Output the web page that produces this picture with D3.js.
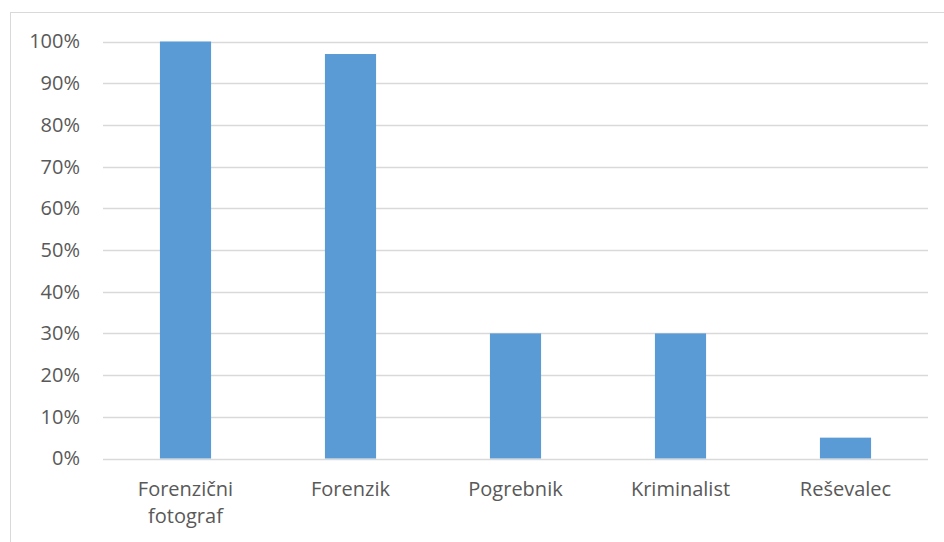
<!DOCTYPE html>
<html>
<head>
<meta charset="utf-8">
<script src="https://cdn.jsdelivr.net/npm/d3@7"></script>
<style>
  html, body { margin: 0; padding: 0; background: #fff; }
  svg { display: block; }
</style>
</head>
<body>
<svg id="chart" width="944" height="542"></svg>
<script>
// Occupations and share of respondents (%)
const categories = [["Forenzični", "fotograf"], ["Forenzik"], ["Pogrebnik"], ["Kriminalist"], ["Reševalec"]];
const values = [100, 97, 30, 30, 5];
const yTicks = [0, 10, 20, 30, 40, 50, 60, 70, 80, 90, 100];

const svg = d3.select("#chart");
const font = "'Open Sans', sans-serif";
const textColor = "#595959";

// chart frame
svg.append("rect")
  .attr("x", 10.5).attr("y", 12.5)
  .attr("width", 944).attr("height", 542)
  .attr("fill", "#fff").attr("stroke", "#d9d9d9").attr("stroke-width", 1);

const plotLeft = 103, plotRight = 928, plotTop = 41.5, plotBottom = 458.5;

const x = d3.scaleBand()
  .domain(categories.map((d, i) => i))
  .range([plotLeft, plotRight])
  .paddingInner(0.69).paddingOuter(0.345);

const y = d3.scaleLinear().domain([0, 100]).range([plotBottom, plotTop]);

// gridlines
svg.append("g")
  .selectAll("line")
  .data(yTicks)
  .join("line")
  .attr("x1", plotLeft).attr("x2", plotRight)
  .attr("y1", d => Math.round(y(d)) + 0.5).attr("y2", d => Math.round(y(d)) + 0.5)
  .attr("stroke", "#d9d9d9").attr("stroke-width", 1.3);

// y axis labels
const yAxis = d3.axisLeft(y).tickValues(yTicks).tickFormat(d => d + "%").tickSize(0).tickPadding(0);
const gy = svg.append("g").attr("transform", "translate(80,0)").call(yAxis);
gy.select(".domain").remove();
gy.selectAll("text")
  .attr("font-family", font).attr("font-size", 20).attr("fill", textColor);

// bars
svg.append("g")
  .selectAll("rect")
  .data(values)
  .join("rect")
  .attr("x", (d, i) => x(i))
  .attr("width", x.bandwidth())
  .attr("y", d => y(d))
  .attr("height", d => y(0) - y(d))
  .attr("fill", "#5b9bd5");

// category labels
const lab = svg.append("g")
  .selectAll("text")
  .data(categories)
  .join("text")
  .attr("x", (d, i) => x(i) + x.bandwidth() / 2)
  .attr("y", 496)
  .attr("text-anchor", "middle")
  .attr("font-family", font).attr("font-size", 20).attr("fill", textColor);
lab.selectAll("tspan")
  .data(d => d)
  .join("tspan")
  .attr("x", function () { return d3.select(this.parentNode).attr("x"); })
  .attr("dy", (d, i) => i === 0 ? 0 : 27)
  .text(d => d);
</script>
</body>
</html>
